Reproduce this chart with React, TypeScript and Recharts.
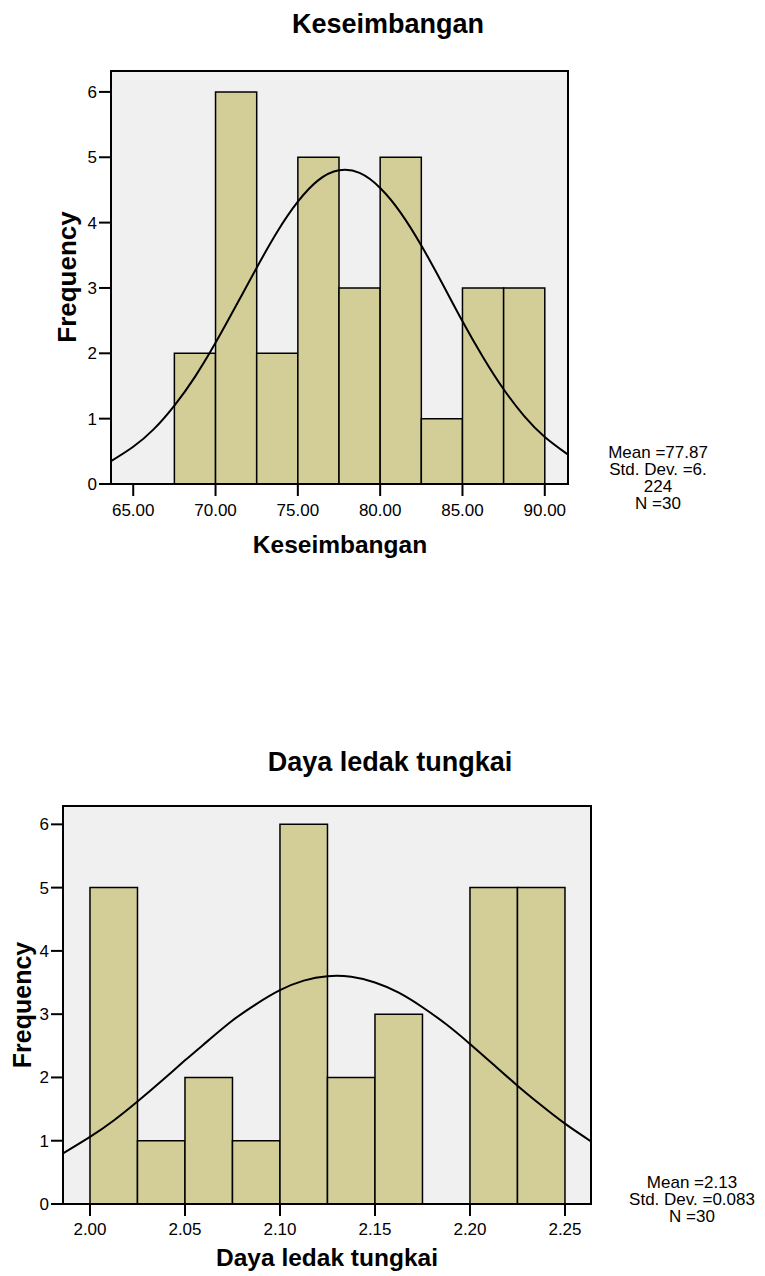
import React from "react";
import {
  ComposedChart,
  Line,
  XAxis,
  YAxis,
  ReferenceArea,
} from "recharts";

// Keseimbangan histogram
const kesBinStart = [67.5, 70, 72.5, 75, 77.5, 80, 82.5, 85, 87.5];
const kesBinEnd = [70, 72.5, 75, 77.5, 80, 82.5, 85, 87.5, 90];
const kesCounts = [2, 6, 2, 5, 3, 5, 1, 3, 3];
const kesCurveX = [63.65, 65, 66.25, 67.5, 68.75, 70, 71.25, 72.5, 73.75, 75, 76.25, 77.5, 78.75, 80, 81.25, 82.5, 83.75, 85, 86.25, 87.5, 88.75, 90, 91.41];
const kesCurveY = [0.35, 0.57, 0.84, 1.2, 1.64, 2.16, 2.73, 3.31, 3.86, 4.32, 4.65, 4.8, 4.76, 4.53, 4.15, 3.65, 3.08, 2.49, 1.94, 1.45, 1.04, 0.72, 0.45];
const kesXTicks = [65, 70, 75, 80, 85, 90];
const kesStats = ["Mean =77.87", "Std. Dev. =6.", "224", "N =30"];

// Daya ledak tungkai histogram
const dltBinStart = [2.0, 2.025, 2.05, 2.075, 2.1, 2.125, 2.15, 2.175, 2.2, 2.225];
const dltBinEnd = [2.025, 2.05, 2.075, 2.1, 2.125, 2.15, 2.175, 2.2, 2.225, 2.25];
const dltCounts = [5, 1, 2, 1, 6, 2, 3, 0, 5, 5];
const dltCurveX = [1.9858, 2.0, 2.0125, 2.025, 2.0375, 2.05, 2.0625, 2.075, 2.0875, 2.1, 2.1125, 2.125, 2.1375, 2.15, 2.1625, 2.175, 2.1875, 2.2, 2.2125, 2.225, 2.2375, 2.25, 2.2637];
const dltCurveY = [0.8, 1.06, 1.32, 1.62, 1.94, 2.27, 2.59, 2.9, 3.16, 3.38, 3.53, 3.6, 3.59, 3.5, 3.34, 3.11, 2.84, 2.53, 2.2, 1.87, 1.56, 1.27, 0.99];
const dltXTicks = [2.0, 2.05, 2.1, 2.15, 2.2, 2.25];
const dltStats = ["Mean =2.13", "Std. Dev. =0.083", "N =30"];

const freqTicks = [0, 1, 2, 3, 4, 5, 6];

const FONT = "'Liberation Sans', Arial, sans-serif";
const BAR_FILL = "#D3CE98";
const PLOT_BG = "#F0F0F0";

type HistProps = {
  top: number;
  height: number;
  margin: { top: number; right: number; bottom: number; left: number };
  yAxisWidth: number;
  xDomain: [number, number];
  yMax: number;
  binStart: number[];
  binEnd: number[];
  counts: number[];
  curveX: number[];
  curveY: number[];
  xTicks: number[];
  tickMargin: number;
};

function Histogram(p: HistProps) {
  const curve = p.curveX.map((x, i) => ({ x, y: p.curveY[i] }));
  const bins = p.binStart
    .map((s, i) => ({ s, e: p.binEnd[i], n: p.counts[i] }))
    .filter((b) => b.n > 0);
  const tickStyle = { fill: "#000", fontSize: 17, fontFamily: FONT };
  return (
    <div style={{ position: "absolute", left: 0, top: p.top }}>
      <ComposedChart width={765} height={p.height} data={curve} margin={p.margin}>
        <XAxis
          dataKey="x"
          type="number"
          domain={p.xDomain}
          allowDataOverflow
          ticks={p.xTicks}
          tickFormatter={(v: number) => v.toFixed(2)}
          tick={tickStyle}
          tickSize={12}
          tickMargin={p.tickMargin}
          axisLine={{ stroke: "#000", strokeWidth: 2 }}
          tickLine={{ stroke: "#000", strokeWidth: 2 }}
          height={40}
        />
        <YAxis
          type="number"
          domain={[0, p.yMax]}
          allowDataOverflow
          ticks={freqTicks}
          tick={tickStyle}
          tickSize={12}
          tickMargin={2}
          axisLine={{ stroke: "#000", strokeWidth: 2 }}
          tickLine={{ stroke: "#000", strokeWidth: 2 }}
          width={p.yAxisWidth}
        />
        <ReferenceArea
          x1={p.xDomain[0]}
          x2={p.xDomain[1]}
          y1={0}
          y2={p.yMax}
          fill={PLOT_BG}
          fillOpacity={1}
          stroke="#000"
          strokeWidth={2}
        />
        {bins.map((b, i) => (
          <ReferenceArea
            key={i}
            x1={b.s}
            x2={b.e}
            y1={0}
            y2={b.n}
            fill={BAR_FILL}
            fillOpacity={1}
            stroke="#000"
            strokeWidth={1.5}
          />
        ))}
        <Line
          dataKey="y"
          type="natural"
          stroke="#000"
          strokeWidth={2}
          dot={false}
          activeDot={false}
          isAnimationActive={false}
        />
      </ComposedChart>
    </div>
  );
}

const textBase: React.CSSProperties = {
  position: "absolute",
  fontFamily: FONT,
  color: "#000",
  whiteSpace: "nowrap",
  transform: "translate(-50%, -50%)",
  lineHeight: 1,
};

function Label(props: { x: number; y: number; size: number; bold?: boolean; rotate?: boolean; text: string }) {
  return (
    <div
      style={{
        ...textBase,
        left: props.x,
        top: props.y,
        fontSize: props.size,
        fontWeight: props.bold ? "bold" : "normal",
        transform: props.rotate ? "translate(-50%, -50%) rotate(-90deg)" : textBase.transform,
      }}
    >
      {props.text}
    </div>
  );
}

function Stats(props: { x: number; y: number; lines: string[] }) {
  return (
    <div
      style={{
        position: "absolute",
        left: props.x,
        top: props.y,
        transform: "translateX(-50%)",
        fontFamily: FONT,
        fontSize: 17,
        lineHeight: "17px",
        textAlign: "center",
        whiteSpace: "nowrap",
      }}
    >
      {props.lines.map((l, i) => (
        <div key={i}>{l}</div>
      ))}
    </div>
  );
}

export default function App() {
  return (
    <div style={{ position: "absolute", left: 0, top: 0, width: 765, height: 1276, background: "#fff" }}>
      <Label x={388} y={24} size={27} bold text="Keseimbangan" />
      <Histogram
        top={0}
        height={600}
        margin={{ top: 71, right: 197, bottom: 76, left: 51 }}
        yAxisWidth={60}
        xDomain={[63.65, 91.41]}
        yMax={6.32}
        binStart={kesBinStart}
        binEnd={kesBinEnd}
        counts={kesCounts}
        curveX={kesCurveX}
        curveY={kesCurveY}
        xTicks={kesXTicks}
        tickMargin={8}
      />
      <Label x={67} y={277} size={26} bold rotate text="Frequency" />
      <Label x={340} y={545} size={24.5} bold text="Keseimbangan" />
      <Stats x={658} y={444} lines={kesStats} />

      <Label x={390} y={762} size={27} bold text="Daya ledak tungkai" />
      <Histogram
        top={700}
        height={576}
        margin={{ top: 106, right: 174, bottom: 32, left: 13 }}
        yAxisWidth={50}
        xDomain={[1.9858, 2.2637]}
        yMax={6.29}
        binStart={dltBinStart}
        binEnd={dltBinEnd}
        counts={dltCounts}
        curveX={dltCurveX}
        curveY={dltCurveY}
        xTicks={dltXTicks}
        tickMargin={7}
      />
      <Label x={22} y={1005} size={25} bold rotate text="Frequency" />
      <Label x={327} y={1258} size={24.5} bold text="Daya ledak tungkai" />
      <Stats x={692} y={1174} lines={dltStats} />
    </div>
  );
}
